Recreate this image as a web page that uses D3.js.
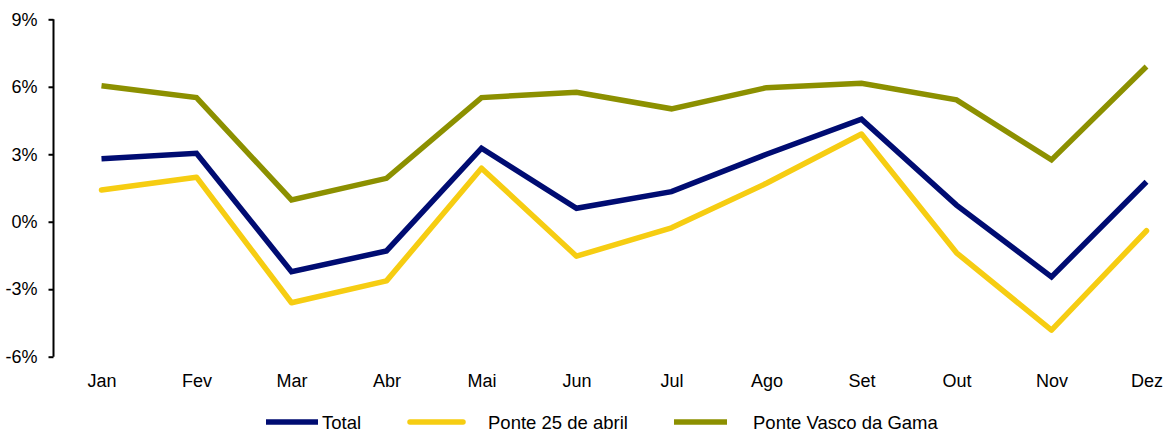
<!DOCTYPE html>
<html>
<head>
<meta charset="utf-8">
<script src="https://cdn.jsdelivr.net/npm/d3@7/dist/d3.min.js"></script>
<style>
  html, body { margin: 0; padding: 0; background: #fff; }
  svg { display: block; font-family: "Liberation Sans", Arial, sans-serif; }
</style>
</head>
<body>
<svg id="chart" width="1168" height="432"></svg>
<script>
const months = ["Jan","Fev","Mar","Abr","Mai","Jun","Jul","Ago","Set","Out","Nov","Dez"];
const total = [2.80, 3.04, -2.22, -1.30, 3.27, 0.60, 1.34, 3.00, 4.56, 0.74, -2.45, 1.78];
const ponte25 = [1.41, 1.98, -3.60, -2.63, 2.38, -1.53, -0.27, 1.71, 3.90, -1.38, -4.82, -0.40];
const vascoGama = [6.05, 5.52, 0.97, 1.93, 5.52, 5.76, 5.02, 5.96, 6.16, 5.42, 2.75, 6.90];
const yTicks = [-6, -3, 0, 3, 6, 9];
const seriesNames = ["Total", "Ponte 25 de abril", "Ponte Vasco da Gama"];

const svg = d3.select("#chart");
const x = d3.scalePoint().domain(months).range([101.5, 1146.5]);
const y = d3.scaleLinear().domain([-6, 9]).range([356.7, 19.3]);

// y axis
const yAxis = d3.axisLeft(y).tickValues(yTicks).tickSize(5).tickPadding(11)
  .tickFormat(d => d + "%");
const gy = svg.append("g").attr("transform", "translate(53.5,0)").call(yAxis);
gy.select(".domain").attr("stroke", "#000").attr("stroke-width", 2).attr("d", `M0,${y(-6)}V${y(9)}`);
gy.selectAll(".tick line").attr("stroke", "#000").attr("stroke-width", 2);
gy.selectAll(".tick text").attr("font-size", 18).attr("fill", "#000")
  .attr("font-family", "Liberation Sans, Arial, sans-serif");

// x labels
const xAxis = d3.axisBottom(x).tickSize(0).tickPadding(0);
const gx = svg.append("g").attr("transform", "translate(0,372)").call(xAxis);
gx.select(".domain").remove();
gx.selectAll(".tick text").attr("font-size", 18).attr("fill", "#000")
  .attr("dy", "0.71em").attr("y", 2)
  .attr("font-family", "Liberation Sans, Arial, sans-serif");

const series = [
  { name: seriesNames[0], values: total, color: "#000c72", cap: "butt", join: "miter" },
  { name: seriesNames[1], values: ponte25, color: "#f6cd12", cap: "round", join: "round" },
  { name: seriesNames[2], values: vascoGama, color: "#8c9000", cap: "butt", join: "miter" }
];

const line = d3.line().x((d, i) => x(months[i])).y(d => y(d));
[2, 1, 0].forEach(k => {
  const s = series[k];
  svg.append("path").datum(s.values)
    .attr("d", line).attr("fill", "none")
    .attr("stroke", s.color).attr("stroke-width", 5.5)
    .attr("stroke-linecap", s.cap).attr("stroke-linejoin", s.join);
});

// legend
const legendPos = [
  { x1: 266, x2: 318, tx: 322 },
  { x1: 410, x2: 463, tx: 488 },
  { x1: 674, x2: 727, tx: 753 }
];
const ly = 422;
series.forEach((s, i) => {
  const p = legendPos[i];
  svg.append("line").attr("x1", p.x1).attr("x2", p.x2).attr("y1", ly).attr("y2", ly)
    .attr("stroke", s.color).attr("stroke-width", 5.5).attr("stroke-linecap", s.cap);
  svg.append("text").attr("x", p.tx).attr("y", ly).attr("dy", "0.36em")
    .attr("font-size", 18.5).attr("fill", "#000").text(s.name);
});
</script>
</body>
</html>
